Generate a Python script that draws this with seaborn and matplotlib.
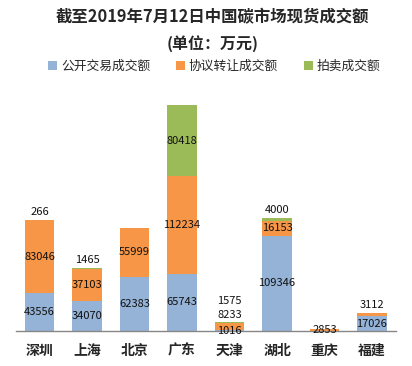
import numpy as np
import pandas as pd
import seaborn as sns
import matplotlib.pyplot as plt
from matplotlib.patches import Patch

# ------------------------------------------------------------
# data (万元)
# ------------------------------------------------------------
cities = ["深圳", "上海", "北京", "广东", "天津", "湖北", "重庆", "福建"]
public_trade = [43556, 34070, 62383, 65743, 1016, 109346, 0, 17026]
agreement_trade = [83046, 37103, 55999, 112234, 8233, 16153, 2853, 3112]
auction_trade = [266, 1465, 0, 80418, 1575, 4000, 0, 0]

series_names = ["公开交易成交额", "协议转让成交额", "拍卖成交额"]
colors = ["#95B3D7", "#F79646", "#9BBB59"]

sns.set_style("white")
plt.rcParams["font.family"] = ["Noto Sans CJK SC", "DejaVu Sans"]

df = pd.DataFrame({"city": cities,
                   series_names[0]: public_trade,
                   series_names[1]: agreement_trade,
                   series_names[2]: auction_trade})

fig = plt.figure(figsize=(4.12, 3.66), dpi=100)
ax_h_px = 227
ax = fig.add_axes([15.75 / 412, 35 / 366, 380 / 412, ax_h_px / 366])
ymax = 260000
px = ymax / ax_h_px          # data units per pixel

# stacked bars
bottom = np.zeros(len(cities))
for name, col in zip(series_names, colors):
    sns.barplot(data=df, x="city", y=name, color=col, width=0.63,
                bottom=bottom, saturation=1, ax=ax, linewidth=0)
    bottom = bottom + df[name].values

# ------------------------------------------------------------
# data labels: centred in big segments, small ones pushed above
# ------------------------------------------------------------
for i in range(len(cities)):
    base = 0.0
    prev = None
    for name in series_names:
        v = df[name].iloc[i]
        if v == 0:
            continue
        top = base + v
        if v >= 12000 or prev is None:
            y = base + v / 2
        else:
            y = max(top + 8 * px, prev + 14 * px)
        ax.text(i, y, f"{v}", ha="center", va="center",
                fontsize=8, color="#111111")
        prev = y
        base = top

ax.set_ylim(0, ymax)
ax.set_xlim(-0.5, len(cities) - 0.5)
ax.set_xlabel("")
ax.set_ylabel("")
ax.set_yticks([])
sns.despine(ax=ax, left=True, top=True, right=True)
ax.spines["bottom"].set_color("#868686")
ax.spines["bottom"].set_linewidth(1)
ax.tick_params(axis="x", length=0, pad=9, labelsize=10)
for lab in ax.get_xticklabels():
    lab.set_fontweight("bold")

# titles
fig.text(0.515, 1 - 17 / 366, "截至2019年7月12日中国碳市场现货成交额",
         ha="center", va="center", fontsize=11.8, fontweight="bold")
fig.text(0.515, 1 - 44 / 366, "(单位：万元)",
         ha="center", va="center", fontsize=11.5, fontweight="bold")

# legend
handles = [Patch(facecolor=c, edgecolor="none") for c in colors]
fig.legend(handles, series_names, loc="center", ncol=3,
           bbox_to_anchor=(0.52, 1 - 66 / 366), frameon=False,
           fontsize=9.2, handlelength=0.7, handleheight=0.7,
           handletextpad=0.3, columnspacing=2.0)

fig.savefig("out.png", dpi=100)
